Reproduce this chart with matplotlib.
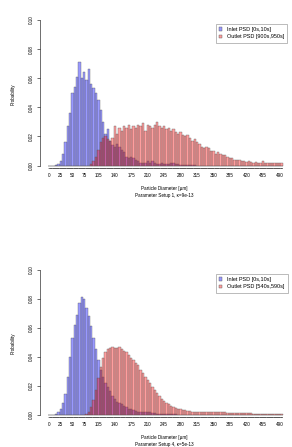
import matplotlib
matplotlib.use("Agg")
from matplotlib import pyplot as plt
from matplotlib.patches import Patch

# bins of 5 um, labelled by their lower edge
bins = list(range(0, 500, 5))
tick_labels = [0, 25, 50, 75, 105, 140, 175, 210, 245, 280, 315, 350, 385, 420, 455, 490]

# Parameter setup 1
inlet_1 = [0, 0, 0, 0.0005, 0.001, 0.003, 0.008, 0.016, 0.027, 0.036,
           0.050, 0.054, 0.061, 0.071, 0.060, 0.064, 0.059, 0.066, 0.056, 0.053,
           0.050, 0.045, 0.038, 0.030, 0.022, 0.025, 0.017, 0.014, 0.013, 0.015,
           0.013, 0.011, 0.009, 0.006, 0.005, 0.006, 0.005, 0.004, 0.003, 0.002,
           0.002, 0.002, 0.003, 0.002, 0.003, 0.002, 0.001, 0.001, 0.002, 0.001,
           0.001, 0.001, 0.002, 0.002, 0.001, 0.001, 0.0005, 0.0005, 0.0005, 0.0005,
           0.0005, 0.0005, 0.0005, 0, 0, 0, 0, 0, 0, 0,
           0, 0, 0, 0, 0, 0, 0, 0, 0, 0,
           0, 0, 0, 0, 0, 0, 0, 0, 0, 0,
           0, 0, 0, 0, 0, 0, 0, 0, 0, 0]
outlet_1 = [0, 0, 0, 0, 0, 0, 0, 0, 0, 0,
            0, 0, 0, 0, 0, 0, 0, 0, 0.001, 0.003,
            0.006, 0.011, 0.016, 0.019, 0.020, 0.018, 0.017, 0.019, 0.027, 0.022,
            0.026, 0.024, 0.027, 0.026, 0.028, 0.025, 0.027, 0.026, 0.028, 0.027,
            0.029, 0.024, 0.028, 0.027, 0.026, 0.028, 0.030, 0.027, 0.026, 0.027,
            0.025, 0.026, 0.024, 0.025, 0.023, 0.022, 0.023, 0.021, 0.020, 0.021,
            0.019, 0.017, 0.018, 0.016, 0.015, 0.013, 0.012, 0.013, 0.012, 0.010,
            0.010, 0.008, 0.009, 0.008, 0.007, 0.007, 0.006, 0.005, 0.005, 0.004,
            0.004, 0.0035, 0.003, 0.003, 0.0025, 0.003, 0.0025, 0.002, 0.0025, 0.002,
            0.002, 0.003, 0.002, 0.002, 0.0015, 0.002, 0.0015, 0.002, 0.0015, 0.0015]

# Parameter setup 4
inlet_4 = [0, 0, 0, 0.0005, 0.002, 0.004, 0.008, 0.014, 0.026, 0.040,
           0.053, 0.062, 0.069, 0.077, 0.081, 0.080, 0.074, 0.068, 0.061, 0.053,
           0.045, 0.038, 0.031, 0.026, 0.022, 0.019, 0.016, 0.013, 0.011, 0.009,
           0.008, 0.007, 0.006, 0.005, 0.004, 0.0035, 0.003, 0.0025, 0.002, 0.002,
           0.0015, 0.0015, 0.002, 0.0015, 0.001, 0.001, 0.0005, 0.0005, 0.0005, 0.0005,
           0.0005, 0.0005, 0.0005, 0.0005, 0.0005, 0, 0, 0, 0, 0,
           0, 0, 0, 0, 0, 0, 0, 0, 0, 0,
           0, 0, 0, 0, 0, 0, 0, 0, 0, 0,
           0, 0, 0, 0, 0, 0, 0, 0, 0, 0,
           0, 0, 0, 0, 0, 0, 0, 0, 0, 0]
outlet_4 = [0, 0, 0, 0, 0, 0, 0, 0, 0, 0,
            0, 0, 0, 0, 0, 0, 0.0005, 0.002, 0.005, 0.010,
            0.017, 0.025, 0.033, 0.039, 0.043, 0.045, 0.046, 0.047, 0.046, 0.046,
            0.047, 0.045, 0.044, 0.043, 0.041, 0.039, 0.038, 0.036, 0.034, 0.031,
            0.029, 0.026, 0.024, 0.022, 0.019, 0.017, 0.015, 0.013, 0.011, 0.0095,
            0.008, 0.007, 0.006, 0.005, 0.0045, 0.004, 0.0035, 0.003, 0.003, 0.0025,
            0.0025, 0.002, 0.002, 0.002, 0.002, 0.002, 0.0015, 0.0015, 0.0015, 0.0015,
            0.0015, 0.0015, 0.0015, 0.0015, 0.0015, 0.0015, 0.001, 0.001, 0.001, 0.001,
            0.001, 0.001, 0.001, 0.001, 0.001, 0.001, 0.001, 0.0005, 0.0005, 0.0005,
            0.0005, 0.0005, 0.0005, 0.0005, 0.0005, 0.0005, 0.0005, 0.0005, 0.0005, 0.0005]

plt.rcParams['font.family'] = ['Liberation Sans', 'DejaVu Sans']

COR_AZUL = (0.0, 0.0, 1.0, 0.40)
COR_VERM = (1.0, 0.0, 0.0, 0.38)
W, H = 292, 447


def desenha_painel(ax, entrada, saida, rotulo_saida, subtitulo, topo_px, base_px):
    ax.bar(bins, entrada, width=5, color=COR_AZUL, edgecolor='#555555', linewidth=0.25)
    ax.bar(bins, saida, width=5, color=COR_VERM, edgecolor='#555555', linewidth=0.25)

    ax.set_xlim(-19.1, 508.5)
    ax.set_ylim(-0.0015, 0.10)

    # eixos no estilo R
    for lado in ['top', 'right']:
        ax.spines[lado].set_visible(False)
    ax.spines['left'].set_bounds(0, 0.10)
    ax.spines['bottom'].set_bounds(0, 495)
    ax.spines['left'].set_linewidth(0.4)
    ax.spines['bottom'].set_linewidth(0.4)

    ax.set_yticks([0, 0.02, 0.04, 0.06, 0.08, 0.10])
    ax.set_yticklabels(['0.00', '0.02', '0.04', '0.06', '0.08', '0.10'],
                       rotation=90, va='center', fontsize=3.3)
    ax.tick_params(axis='y', length=2.5, width=0.4, pad=2.0)

    ax.set_xticks(bins)
    ax.set_xticklabels([str(b) if b in tick_labels else '' for b in bins], fontsize=3.3)
    ax.tick_params(axis='x', length=1.0, width=0.3, pad=3.0)

    ax.legend(handles=[Patch(facecolor=COR_AZUL, edgecolor='#555555', linewidth=0.3),
                       Patch(facecolor=COR_VERM, edgecolor='#555555', linewidth=0.3)],
              labels=['Inlet PSD [0s,10s]', rotulo_saida],
              loc='upper left', bbox_to_anchor=(213 / W, 1 - (topo_px + 1) / H),
              bbox_transform=ax.figure.transFigure, fontsize=4.0, fancybox=False,
              edgecolor='#888888', framealpha=1, handlelength=0.6, handleheight=0.6,
              borderpad=0.6, labelspacing=0.4, handletextpad=0.8)
    ax.get_legend().get_frame().set_linewidth(0.4)

    meio = (topo_px + base_px) / 2
    ax.figure.text(13 / W, 1 - meio / H, 'Probability', rotation=90,
                   ha='center', va='center', fontsize=3.3)
    ax.figure.text(164 / W, 1 - (base_px + 20.5) / H, 'Particle Diameter [µm]',
                   ha='center', va='center', fontsize=3.3)
    ax.figure.text(164 / W, 1 - (base_px + 28) / H, subtitulo,
                   ha='center', va='center', fontsize=3.3)


fig = plt.figure(figsize=(W / 100, H / 100), dpi=100)
ax1 = fig.add_axes([40 / W, 1 - 167.7 / H, 248 / W, 147.7 / H])
ax2 = fig.add_axes([40 / W, 1 - 416.7 / H, 248 / W, 146.7 / H])

desenha_painel(ax1, inlet_1, outlet_1, 'Outlet PSD [900s,950s]',
               'Parameter Setup 1, κ=9e-13', 20, 167.7)
desenha_painel(ax2, inlet_4, outlet_4, 'Outlet PSD [540s,590s]',
               'Parameter Setup 4, κ=5e-13', 270, 416.7)

fig.savefig('out.png', dpi=100)
